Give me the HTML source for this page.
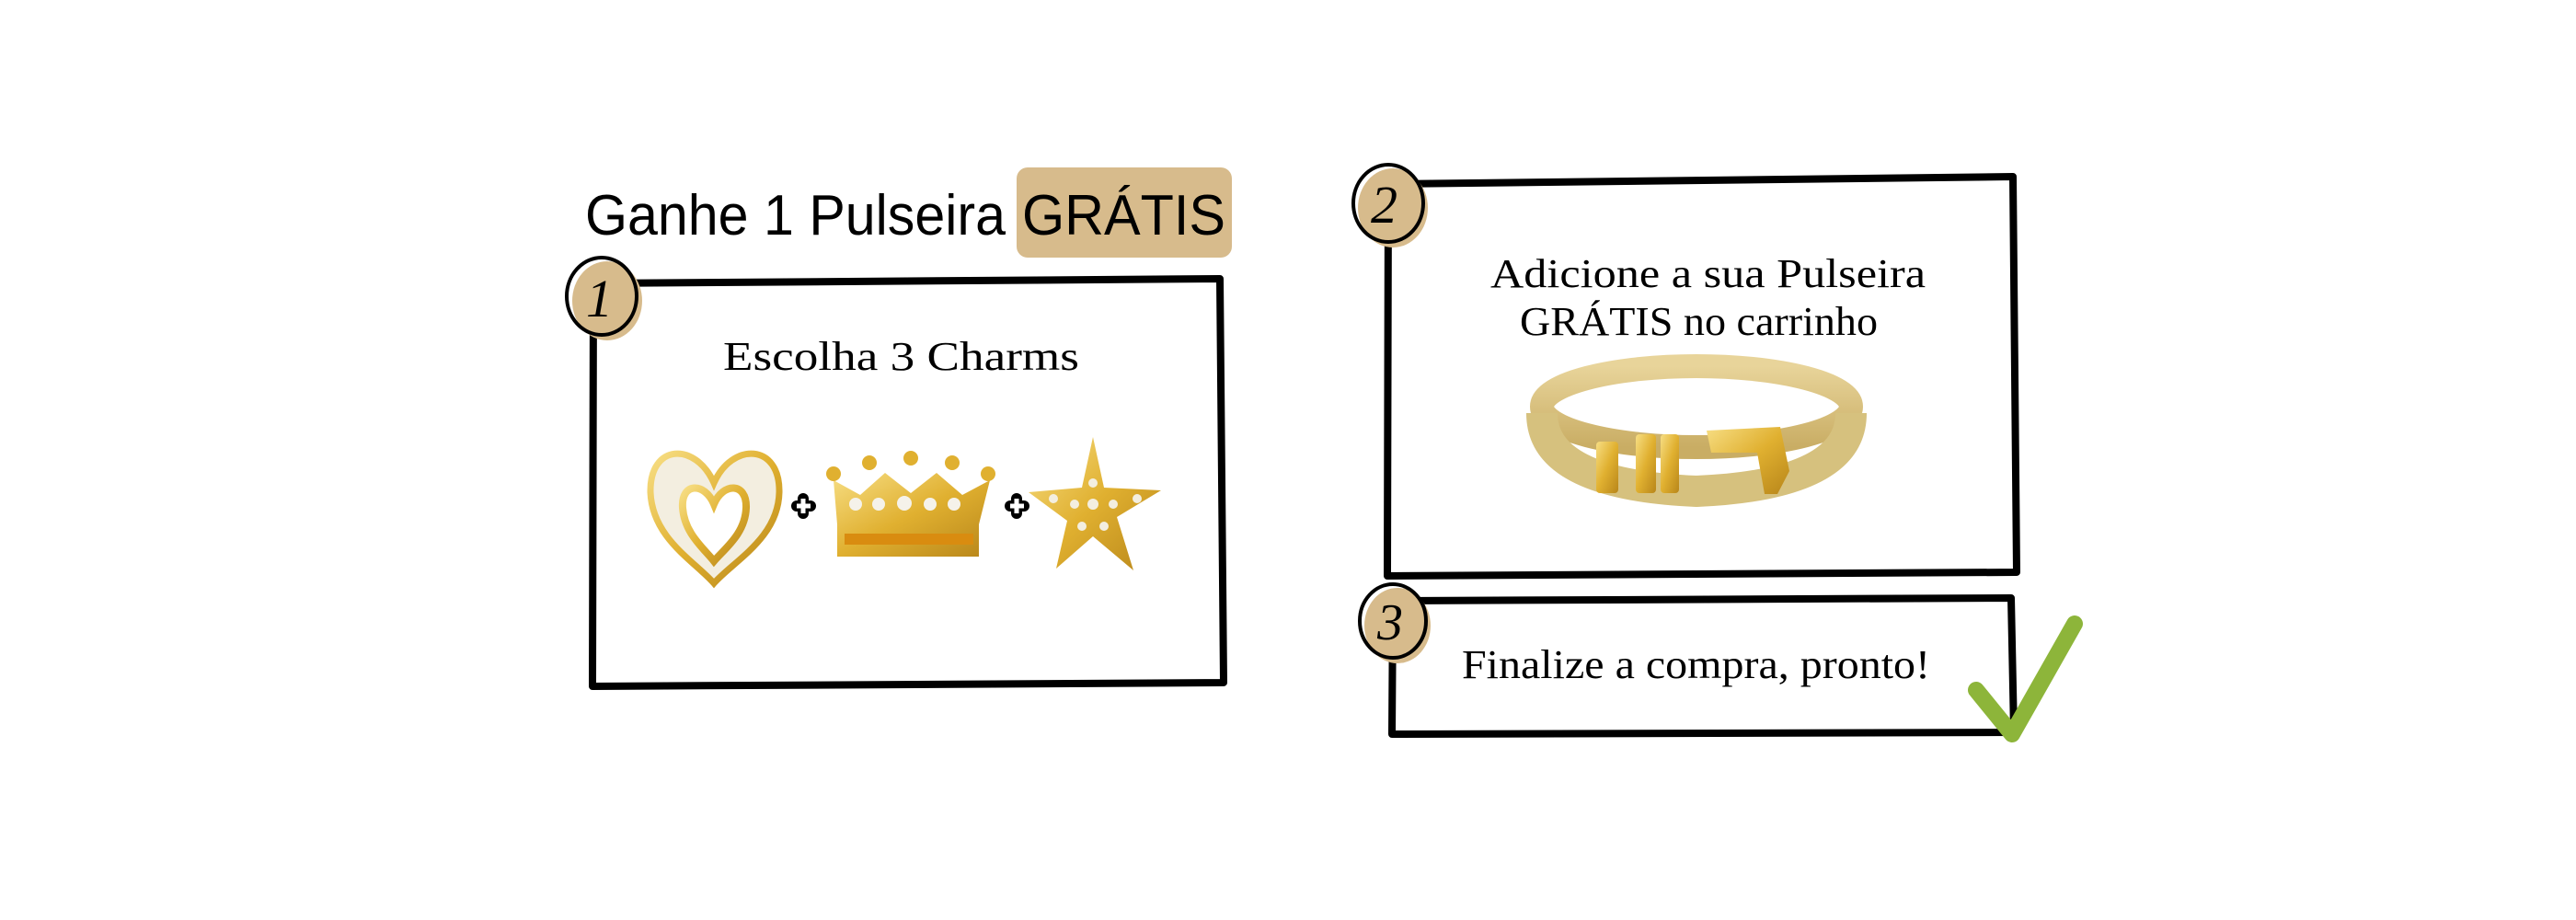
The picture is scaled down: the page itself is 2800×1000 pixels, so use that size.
<!DOCTYPE html>
<html><head><meta charset="utf-8"><style>html,body{margin:0;padding:0;background:#fff}svg{display:block}</style></head>
<body>
<svg width="2800" height="1000" viewBox="0 0 2800 1000" xmlns="http://www.w3.org/2000/svg">
<defs>
<linearGradient id="g" x1="0" y1="0" x2="1" y2="1"><stop offset="0" stop-color="#f7de84"/><stop offset="0.5" stop-color="#e0b030"/><stop offset="1" stop-color="#b8861a"/></linearGradient>
<linearGradient id="m" x1="0" y1="0" x2="0" y2="1"><stop offset="0" stop-color="#e8d49a"/><stop offset="1" stop-color="#c9ad64"/></linearGradient>
</defs>
<rect width="2800" height="1000" fill="#fff"/>
<rect x="1105" y="182" width="234" height="98" rx="12" fill="#d7bb8c"/>
<text x="636" y="255" font-family="Liberation Sans, sans-serif" font-size="62" textLength="457" lengthAdjust="spacingAndGlyphs">Ganhe 1 Pulseira</text>
<text x="1111" y="255" font-family="Liberation Sans, sans-serif" font-size="62" textLength="221" lengthAdjust="spacingAndGlyphs">GRÁTIS</text>
<path d="M645 308 L1326 303 L1330 742 L644 746 Z" fill="none" stroke="#000" stroke-width="8" stroke-linejoin="round"/>
<ellipse cx="660" cy="327" rx="38" ry="43" fill="#d7bb8c"/>
<ellipse cx="654" cy="322" rx="38" ry="42" fill="none" stroke="#000" stroke-width="4"/>
<text x="637" y="344" font-family="Liberation Serif, serif" font-style="italic" font-size="58">1</text>
<text x="786" y="402" font-family="Liberation Serif, serif" font-size="44" textLength="387" lengthAdjust="spacingAndGlyphs">Escolha 3 Charms</text>
<path d="M776 525 C756 480 706 482 707 535 C709 585 755 610 776 634 C797 610 846 585 847 535 C848 482 796 480 776 525 Z" fill="#f3eee0" stroke="url(#g)" stroke-width="7"/>
<path d="M776 548 C766 524 740 524 742 552 C744 580 765 596 776 610 C788 596 810 580 811 552 C812 524 786 524 776 548 Z" fill="#fff" stroke="url(#g)" stroke-width="8"/>
<g stroke="#000" stroke-width="12" stroke-linecap="round"><line x1="866" y1="550" x2="881" y2="550"/><line x1="873" y1="542" x2="873" y2="558"/><line x1="1098" y1="550" x2="1113" y2="550"/><line x1="1105" y1="542" x2="1105" y2="558"/></g>
<g stroke="#fff" stroke-width="5"><line x1="866" y1="550" x2="881" y2="550"/><line x1="873" y1="542" x2="873" y2="558"/><line x1="1098" y1="550" x2="1113" y2="550"/><line x1="1105" y1="542" x2="1105" y2="558"/></g>
<path d="M906 522 L935 538 L962 514 L990 536 L1018 514 L1046 538 L1076 522 L1064 570 L1064 605 L910 605 L910 570 Z" fill="url(#g)"/>
<rect x="918" y="580" width="140" height="12" fill="#d98c10"/>
<g fill="#e0b030"><circle cx="906" cy="515" r="8"/><circle cx="945" cy="503" r="8"/><circle cx="990" cy="498" r="8"/><circle cx="1035" cy="503" r="8"/><circle cx="1074" cy="515" r="8"/></g>
<g fill="#f5f2ea"><circle cx="930" cy="548" r="7"/><circle cx="955" cy="548" r="7"/><circle cx="983" cy="547" r="8"/><circle cx="1011" cy="548" r="7"/><circle cx="1037" cy="548" r="7"/></g>
<path d="M1188 475 L1200 530 L1262 533 L1214 562 L1232 620 L1188 583 L1148 618 L1160 566 L1118 535 L1176 530 Z" fill="url(#g)"/>
<g fill="#f3eee0"><circle cx="1188" cy="525" r="5"/><circle cx="1188" cy="548" r="6"/><circle cx="1168" cy="548" r="5"/><circle cx="1210" cy="548" r="5"/><circle cx="1176" cy="572" r="5"/><circle cx="1200" cy="572" r="5"/><circle cx="1236" cy="542" r="5"/><circle cx="1145" cy="542" r="5"/></g>
<path d="M1509 200 L2188 192 L2192 622 L1508 626 Z" fill="none" stroke="#000" stroke-width="8" stroke-linejoin="round"/>
<ellipse cx="1514" cy="226" rx="38" ry="43" fill="#d7bb8c"/>
<ellipse cx="1509" cy="221" rx="38" ry="42" fill="none" stroke="#000" stroke-width="4"/>
<text x="1490" y="242" font-family="Liberation Serif, serif" font-style="italic" font-size="58">2</text>
<text x="1620" y="312" font-family="Liberation Serif, serif" font-size="44" textLength="473" lengthAdjust="spacingAndGlyphs">Adicione a sua Pulseira</text>
<text x="1652" y="364" font-family="Liberation Serif, serif" font-size="44" textLength="389" lengthAdjust="spacingAndGlyphs">GRÁTIS no carrinho</text>
<ellipse cx="1844" cy="442" rx="168" ry="44" fill="none" stroke="url(#m)" stroke-width="26"/>
<path d="M1676 449 Q1676 527 1844 534 Q2012 527 2012 449" fill="none" stroke="#d6c17e" stroke-width="34"/>
<rect x="1735" y="480" width="24" height="56" rx="4" fill="url(#g)"/>
<rect x="1778" y="472" width="22" height="64" rx="4" fill="url(#g)"/>
<rect x="1805" y="472" width="20" height="64" rx="4" fill="url(#g)"/>
<path d="M1855 468 L1935 464 L1945 512 L1932 537 L1918 537 L1910 492 L1860 492 Z" fill="url(#g)"/>
<path d="M1514 653 L2186 650 L2189 796 L1513 798 Z" fill="none" stroke="#000" stroke-width="8" stroke-linejoin="round"/>
<ellipse cx="1519" cy="680" rx="36" ry="41" fill="#d7bb8c"/>
<ellipse cx="1514" cy="675" rx="36" ry="40" fill="none" stroke="#000" stroke-width="4"/>
<text x="1497" y="695" font-family="Liberation Serif, serif" font-style="italic" font-size="56">3</text>
<text x="1589" y="737" font-family="Liberation Serif, serif" font-size="44" textLength="509" lengthAdjust="spacingAndGlyphs">Finalize a compra, pronto!</text>
<path d="M2148 750 L2187 798 L2255 678" fill="none" stroke="#8db53a" stroke-width="18" stroke-linecap="round" stroke-linejoin="round"/>
</svg>
</body></html>
